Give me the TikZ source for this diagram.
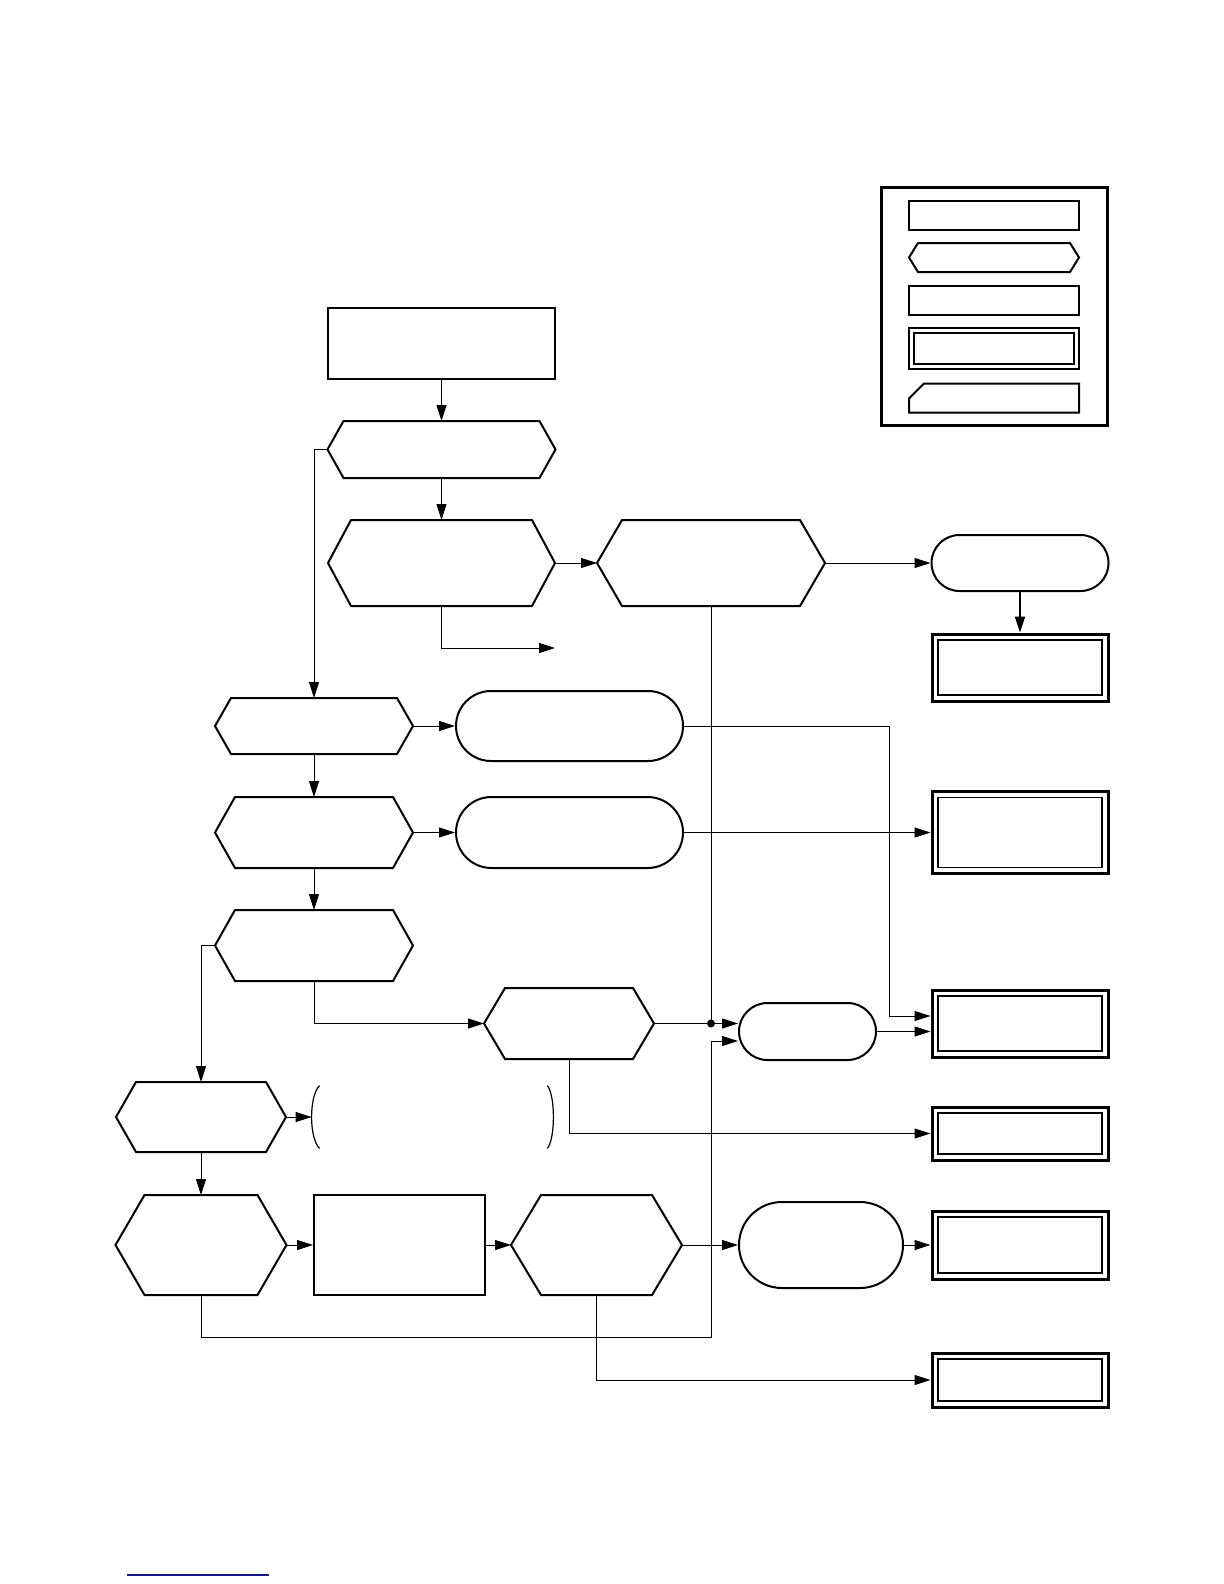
\documentclass[tikz,border=0pt]{standalone}
\usetikzlibrary{arrows.meta,calc,shapes.misc}
\definecolor{navyline}{RGB}{24,24,140}

\begin{document}
\begin{tikzpicture}[
  x=0.5pt, y=-0.5pt,
  >={Triangle[length=8pt,width=5pt]},
  conn/.style={->, line width=0.5pt},
  plain box/.style={rectangle, draw, line width=1pt, inner sep=0pt},
  pill node/.style={rounded rectangle, draw, line width=1pt, inner sep=0pt},
  dbl box/.style={rectangle, draw, line width=1.5pt, inner sep=0pt,
    path picture={\draw[line width=0.7pt] ([shift={(#1,-#1)}]path picture bounding box.north west)
      rectangle ([shift={(-#1,#1)}]path picture bounding box.south east);}},
  dbl box/.default=3pt,
  hex node/.style={rectangle, inner sep=0pt, outer sep=0pt,
    append after command={\pgfextra{\draw[line width=1pt]
      ($(\tikzlastnode.north west)+(#1,0pt)$) -- ($(\tikzlastnode.north east)+(-#1,0pt)$) -- (\tikzlastnode.east)
      -- ($(\tikzlastnode.south east)+(-#1,0pt)$) -- ($(\tikzlastnode.south west)+(#1,0pt)$) -- (\tikzlastnode.west) -- cycle;}}},
  cut box/.style={rectangle, inner sep=0pt, outer sep=0pt,
    append after command={\pgfextra{\draw[line width=1pt]
      ($(\tikzlastnode.north west)+(#1,0pt)$) -- (\tikzlastnode.north east) -- (\tikzlastnode.south east)
      -- (\tikzlastnode.south west) -- ($(\tikzlastnode.north west)+(0pt,-#1)$) -- cycle;}}},
  paren/.style={line width=0.6pt},
]
\useasboundingbox (0,0) rectangle (1224,1584);

\node[draw, line width=1.5pt, inner sep=0pt, minimum width=113pt, minimum height=119pt] (legend) at (994,306) {};
\node[plain box, minimum width=85pt, minimum height=14.5pt] (keyA) at (994,215.5) {};
\node[hex node=4.5pt, minimum width=85pt, minimum height=14.5pt] (keyB) at (994,257.5) {};
\node[plain box, minimum width=85pt, minimum height=14.5pt] (keyC) at (994,300.5) {};
\node[dbl box=2.5pt, line width=1pt, minimum width=85pt, minimum height=20.5pt] (keyD) at (994,348.5) {};
\node[cut box=7.5pt, minimum width=85pt, minimum height=14.5pt] (keyE) at (994,398) {};

\node[plain box, minimum width=113.5pt, minimum height=35.5pt] (init) at (441.5,343.5) {};
\node[hex node=8pt, minimum width=114pt, minimum height=28.5pt] (chk1) at (441.5,449.5) {};
\node[hex node=11.5pt, minimum width=113.5pt, minimum height=43pt] (chk2) at (441.5,563) {};
\node[hex node=12.5pt, minimum width=114pt, minimum height=43pt] (chk3) at (711,563) {};
\node[pill node, minimum width=88.5pt, minimum height=28pt] (res1) at (1020,563) {};
\node[dbl box, minimum width=88pt, minimum height=33.5pt] (out1) at (1020,667.5) {};
\node[hex node=8pt, minimum width=99pt, minimum height=28pt] (chk4) at (314,726) {};
\node[pill node, minimum width=113.5pt, minimum height=35pt] (res2) at (569.5,726) {};
\node[hex node=10pt, minimum width=99pt, minimum height=35.5pt] (chk5) at (314,832.5) {};
\node[pill node, minimum width=113.5pt, minimum height=35.5pt] (res3) at (569.5,832.5) {};
\node[dbl box, minimum width=88pt, minimum height=41pt] (out2) at (1020,832.5) {};
\node[hex node=10pt, minimum width=99pt, minimum height=35.5pt] (chk6) at (314,945.5) {};
\node[hex node=10.5pt, minimum width=85pt, minimum height=35.5pt] (chk7) at (569,1023.5) {};
\node[pill node, minimum width=68.5pt, minimum height=28.5pt] (res4) at (807.5,1031.5) {};
\node[dbl box, minimum width=88pt, minimum height=33.5pt] (out3) at (1020,1023.5) {};
\node[dbl box, minimum width=88pt, minimum height=26.5pt] (out4) at (1020,1133.5) {};
\node[hex node=10pt, minimum width=85pt, minimum height=35pt] (chk8) at (201,1117) {};
\node[inner sep=0pt, minimum width=120.5pt, minimum height=31pt] (note) at (432.5,1117) {};
\node[hex node=14.5pt, minimum width=85.5pt, minimum height=50pt] (chk9) at (201,1245) {};
\node[plain box, minimum width=85.5pt, minimum height=50pt] (proc) at (399.5,1245) {};
\node[hex node=15pt, minimum width=85.5pt, minimum height=50pt] (chk10) at (596.5,1245) {};
\node[pill node, minimum width=82pt, minimum height=43pt] (res5) at (821,1245) {};
\node[dbl box, minimum width=88pt, minimum height=34pt] (out5) at (1020,1245) {};
\node[dbl box, minimum width=88pt, minimum height=27pt] (out6) at (1020,1380) {};

\coordinate (jn) at (chk3.south |- chk7.east);
\coordinate (off) at (555,648);
\coordinate (turnA) at (889,1016);
\coordinate (turnB) at (711,1337);
\coordinate (turnC) at (711,1041);

\draw[conn] (init.south) -- (chk1.north);
\draw[conn] (chk1.south) -- (chk2.north);
\draw[conn] (chk1.west) -| (chk4.north);
\draw[conn] (chk2.south) |- (off);
\draw[conn] (chk2.east) -- (chk3.west);
\draw[conn] (chk3.east) -- (res1.west);
\draw[conn, line width=1pt] (res1.south) -- (out1.north);
\draw[line width=0.5pt] (chk3.south) -- (jn);
\fill (jn) circle (2pt);
\draw[conn] (chk7.east) -- (chk7.east -| res4.west);
\draw[conn] (chk4.east) -- (res2.west);
\draw[conn] (res2.east) -| (turnA) -- (turnA -| out3.west);
\draw[conn] (chk4.south) -- (chk5.north);
\draw[conn] (chk5.east) -- (res3.west);
\draw[conn] (res3.east) -- (out2.west);
\draw[conn] (chk5.south) -- (chk6.north);
\draw[conn] (chk6.south) |- (chk7.west);
\draw[conn] (chk6.west) -| (chk8.north);
\draw[conn] (chk7.south) |- (out4.west);
\draw[conn] (res4.east) -- (out3.west |- res4.east);
\draw[conn] (chk8.east) -- (note.west);
\draw[paren] ($(note.north west)+(8,0)$) .. controls ($(note.north west)+(-2.7,10)$) and ($(note.south west)+(-2.7,-10)$) .. ($(note.south west)+(8,0)$);
\draw[paren] ($(note.north east)+(-6,0)$) .. controls ($(note.north east)+(2,10)$) and ($(note.south east)+(2,-10)$) .. ($(note.south east)+(-6,0)$);
\draw[conn] (chk8.south) -- (chk9.north);
\draw[conn] (chk9.east) -- (proc.west);
\draw[conn] (proc.east) -- (chk10.west);
\draw[conn] (chk10.east) -- (res5.west);
\draw[conn] (res5.east) -- (out5.west);
\draw[conn] (chk9.south) |- (turnB) -- (turnC) -- (turnC -| res4.west);
\draw[conn] (chk10.south) |- (out6.west);

\draw[navyline, line width=1pt] (127,1575) -- (269,1575);
\end{tikzpicture}
\end{document}
